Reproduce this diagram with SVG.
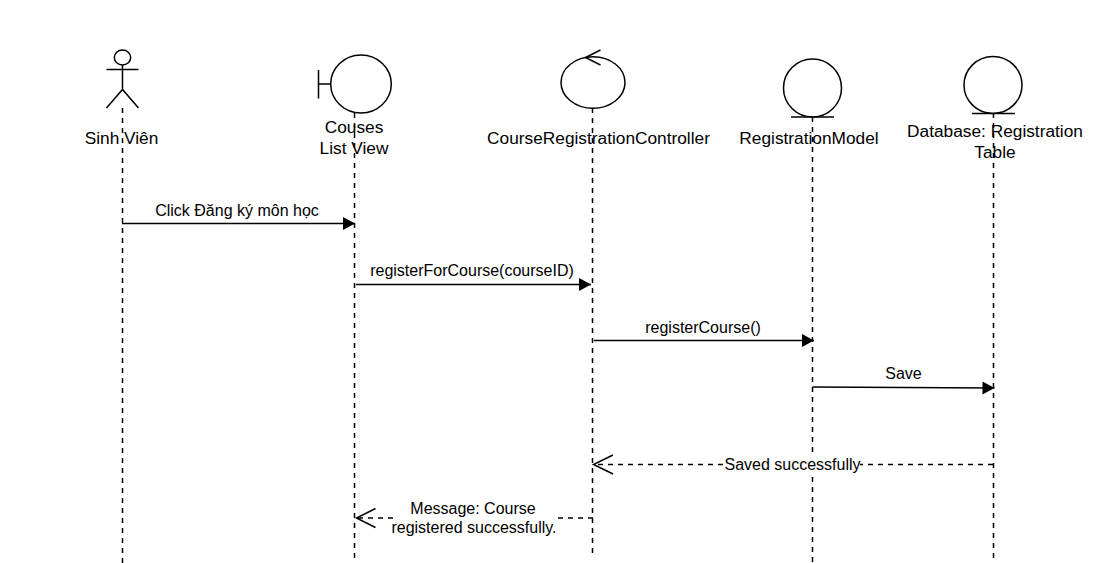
<svg xmlns="http://www.w3.org/2000/svg" width="1110" height="563" viewBox="0 0 1110 563">
<style>
text{font-family:"Liberation Sans",Arial,sans-serif;font-size:16px;fill:#000;text-anchor:middle}
.n{font-size:17.3px}
.s{fill:none;stroke:#000;stroke-width:1.5}
.l{fill:none;stroke:#000;stroke-width:1.5;stroke-dasharray:5 5}
.m{fill:none;stroke:#000;stroke-width:1.5}
.r{fill:none;stroke:#000;stroke-width:1.5;stroke-dasharray:5 5}
.bg{fill:#fff;stroke:none}
</style>
<defs>
<marker id="fill" markerUnits="userSpaceOnUse" markerWidth="14" markerHeight="14" refX="12.500" refY="7" orient="auto"><path d="M0.500 0.500L12.500 7L0.500 13.500Z" fill="#000"/></marker>
</defs>
<rect width="1110" height="563" fill="#fff"/>
<g id="lifelines">
<path class="l" d="M122.500 108V563"/>
<path class="l" d="M354.500 113V560"/>
<path class="l" d="M592.500 108V556"/>
<path class="l" d="M812.500 117V563"/>
<path class="l" d="M993.500 113V560"/>
</g>
<g id="node-student">
<ellipse class="s" cx="122.500" cy="57.500" rx="8.200" ry="7.500"/>
<path class="s" d="M122.500 65V89.500M106.500 69.500H138.500M106.500 108L122.500 89.500L138.500 108"/>
<text class="n" x="121.500" y="144">Sinh Viên</text>
</g>
<g id="node-view">
<ellipse class="s" cx="361" cy="84" rx="30.300" ry="29"/>
<path class="s" d="M318.500 70V98.500M318.500 84H330.700"/>
<text class="n" x="354" y="133">Couses</text>
<text class="n" x="354" y="154">List View</text>
</g>
<g id="node-controller">
<ellipse class="s" cx="593" cy="82.500" rx="32" ry="25.800"/>
<path class="s" d="M600.500 50L585.500 57.500L600.500 65"/>
<text class="n" x="598.500" y="144">CourseRegistrationController</text>
</g>
<g id="node-model">
<ellipse class="s" cx="812.500" cy="88" rx="29" ry="29"/>
<path class="s" d="M791 117H834"/>
<text class="n" x="809" y="144">RegistrationModel</text>
</g>
<g id="node-db">
<ellipse class="s" cx="993" cy="85" rx="29" ry="28.500"/>
<path class="s" d="M972 113.500H1015"/>
<text class="n" x="995" y="137">Database: Registration</text>
<text class="n" x="995" y="158">Table</text>
</g>
<g id="connectors">
<path class="m" marker-end="url(#fill)" d="M122 223.500H355"/>
<text x="237" y="216">Click Đăng ký môn học</text>
<path class="m" marker-end="url(#fill)" d="M356 284.500H591"/>
<text x="472" y="276">registerForCourse(courseID)</text>
<path class="m" marker-end="url(#fill)" d="M594 340.500H814"/>
<text x="703" y="333">registerCourse()</text>
<path class="m" marker-end="url(#fill)" d="M812.500 387L994.500 388"/>
<text x="903.500" y="379">Save</text>
<path class="r" d="M993 464.500H594"/>
<path class="s" d="M613 455L593.500 464.500L613 474"/>
<rect class="bg" x="725" y="456" width="135" height="17"/>
<text x="792.500" y="470">Saved successfully</text>
<path class="r" d="M593 518H357"/>
<path class="s" d="M375.500 508.500L356.500 518L375.500 527.500"/>
<rect class="bg" x="393" y="500" width="162" height="37"/>
<text x="473" y="514">Message: Course</text>
<text x="474" y="533">registered successfully.</text>
</g>
</svg>
